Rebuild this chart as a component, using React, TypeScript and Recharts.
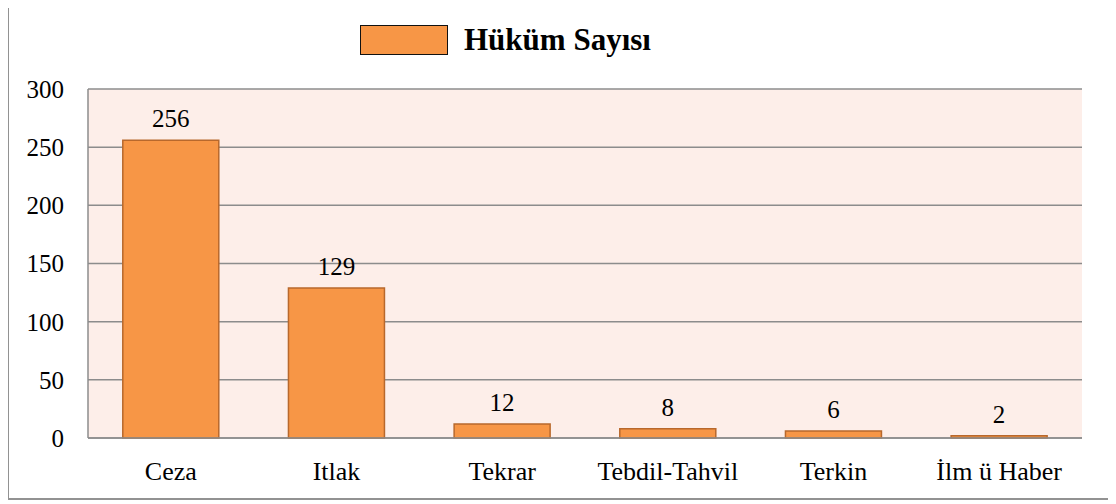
import React from 'react';
import { BarChart, Bar, XAxis, YAxis, CartesianGrid, LabelList } from 'recharts';

const categories = ['Ceza', 'Itlak', 'Tekrar', 'Tebdil-Tahvil', 'Terkin', 'İlm ü Haber'];
const hukumSayisi = [256, 129, 12, 8, 6, 2];
const yTicks = [0, 50, 100, 150, 200, 250, 300];

const data = categories.map((name, i) => ({ name, value: hukumSayisi[i] }));

const serif = '"Liberation Serif", "Times New Roman", serif';

const App: React.FC = () => {
  return (
    <div
      style={{
        position: 'relative',
        width: 1100,
        height: 496,
        border: '2px solid #929292',
        marginLeft: -1,
        marginTop: -8,
        background: '#fff',
        fontFamily: serif,
      }}
    >
      <div style={{ position: 'absolute', left: 351, top: 20, display: 'flex', alignItems: 'center' }}>
        <span
          style={{
            display: 'inline-block',
            width: 86,
            height: 28,
            background: '#F79646',
            border: '1.5px solid #111',
            marginRight: 16,
          }}
        />
        <span style={{ fontSize: 31, fontWeight: 'bold', color: '#000' }}>Hüküm Sayısı</span>
      </div>
      <BarChart
        width={1100}
        height={496}
        data={data}
        margin={{ top: 87, right: 27, bottom: 10, left: 0 }}
        barCategoryGap="21%"
        style={{ fontFamily: serif }}
      >
        <CartesianGrid vertical={false} stroke="#8c8c8c" strokeWidth={1.5} fill="#FDEEE9" />
        <XAxis
          dataKey="name"
          height={50}
          tickLine={false}
          tickSize={0}
          tickMargin={24}
          axisLine={{ stroke: '#8c8c8c', strokeWidth: 1.5 }}
          tick={{ fill: '#000', fontSize: 26, fontFamily: serif }}
          interval={0}
        />
        <YAxis
          width={79}
          domain={[0, 300]}
          ticks={yTicks}
          tickLine={false}
          tickSize={0}
          tickMargin={24}
          axisLine={{ stroke: '#8c8c8c', strokeWidth: 1.5 }}
          tick={{ fill: '#000', fontSize: 25, fontFamily: serif }}
        />
        <Bar dataKey="value" fill="#F79646" stroke="#B8682C" strokeWidth={1.5} isAnimationActive={false}>
          <LabelList
            dataKey="value"
            position="top"
            offset={13}
            style={{ fill: '#000', fontSize: 25, fontFamily: serif }}
          />
        </Bar>
      </BarChart>
    </div>
  );
};

export default App;
